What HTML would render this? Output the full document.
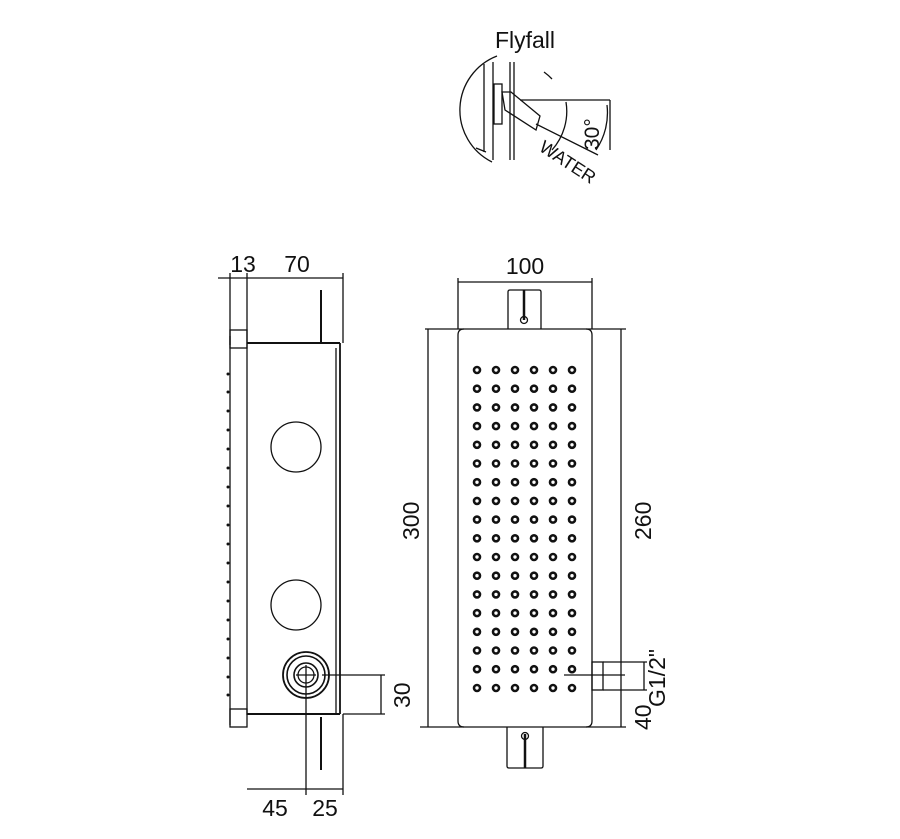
<!DOCTYPE html>
<html><head><style>body{margin:0;background:#fff}svg{display:block}</style></head><body>
<svg width="900" height="839" viewBox="0 0 900 839" xmlns="http://www.w3.org/2000/svg" font-family="Liberation Sans, sans-serif" fill="none" stroke="#111" stroke-width="1.3">
<!-- Flyfall -->
<text x="525" y="48" font-size="23" fill="#111" stroke="none" text-anchor="middle">Flyfall</text>
<path d="M497 56 A58 58 0 0 0 492 162" />
<path d="M544 72 A58 58 0 0 1 552 79"/>
<path d="M566 102 A58 58 0 0 1 552 150"/>
<line x1="484" y1="64" x2="484" y2="152"/><line x1="476" y1="148" x2="486" y2="152"/>
<line x1="493" y1="62" x2="493" y2="160"/>
<line x1="510" y1="62" x2="510" y2="160"/><line x1="514" y1="62" x2="514" y2="160"/>
<rect x="494" y="84" width="8" height="40"/>
<path d="M502 92 L511 92 L540 116 L536 130 L505 110 Z"/>
<line x1="520" y1="100" x2="610" y2="100"/><line x1="610" y1="100" x2="610" y2="150"/>
<line x1="536" y1="124" x2="598" y2="155"/>
<path d="M607 105 A66 66 0 0 1 596 150"/>
<text x="0" y="0" font-size="21" fill="#111" stroke="none" transform="translate(599,150) rotate(-90)">30°</text>
<text x="0" y="0" font-size="18" fill="#111" stroke="none" transform="translate(538,150) rotate(33)">WATER</text>
<!-- Side view -->
<text x="243" y="272" font-size="23" fill="#111" stroke="none" text-anchor="middle">13</text>
<text x="297" y="272" font-size="23" fill="#111" stroke="none" text-anchor="middle">70</text>
<line x1="218" y1="278" x2="343" y2="278"/>
<line x1="230" y1="273" x2="230" y2="345"/><line x1="247" y1="273" x2="247" y2="715"/><line x1="343" y1="273" x2="343" y2="343"/>
<rect x="230" y="330" width="17" height="18"/><rect x="230" y="709" width="17" height="18"/>
<line x1="230" y1="336" x2="230" y2="725"/>
<line x1="247" y1="343" x2="340" y2="343" stroke-width="2"/><line x1="247" y1="714" x2="340" y2="714" stroke-width="2"/>
<line x1="340" y1="343" x2="340" y2="714" stroke-width="1.8"/><line x1="336" y1="348" x2="336" y2="714"/>
<line x1="321" y1="290" x2="321" y2="342" stroke-width="2"/>
<line x1="321" y1="717" x2="321" y2="770" stroke-width="2"/>
<circle cx="296" cy="447" r="25"/><circle cx="296" cy="605" r="25"/>
<circle cx="306" cy="675" r="23" stroke-width="1.8"/><circle cx="306" cy="675" r="19" stroke-width="1.6"/><circle cx="306" cy="675" r="12" stroke-width="1.6"/><circle cx="306" cy="675" r="8"/>
<line x1="296" y1="675" x2="316" y2="675"/><line x1="306" y1="665" x2="306" y2="795"/>
<line x1="322" y1="675" x2="385" y2="675"/><line x1="343" y1="714" x2="385" y2="714"/><line x1="381" y1="675" x2="381" y2="714"/>
<text x="0" y="0" font-size="23" fill="#111" stroke="none" transform="translate(410,708) rotate(-90)">30</text>
<line x1="343" y1="714" x2="343" y2="795"/>
<line x1="247" y1="789" x2="343" y2="789"/>
<text x="275" y="816" font-size="23" fill="#111" stroke="none" text-anchor="middle">45</text>
<text x="325" y="816" font-size="23" fill="#111" stroke="none" text-anchor="middle">25</text>
<g fill="#111" stroke="none">
<circle cx="228" cy="374" r="1.5"/><circle cx="228" cy="392" r="1.5"/><circle cx="228" cy="411" r="1.5"/><circle cx="228" cy="430" r="1.5"/><circle cx="228" cy="449" r="1.5"/><circle cx="228" cy="468" r="1.5"/><circle cx="228" cy="487" r="1.5"/><circle cx="228" cy="506" r="1.5"/><circle cx="228" cy="525" r="1.5"/><circle cx="228" cy="544" r="1.5"/><circle cx="228" cy="563" r="1.5"/><circle cx="228" cy="582" r="1.5"/><circle cx="228" cy="601" r="1.5"/><circle cx="228" cy="620" r="1.5"/><circle cx="228" cy="639" r="1.5"/><circle cx="228" cy="658" r="1.5"/><circle cx="228" cy="677" r="1.5"/><circle cx="228" cy="695" r="1.5"/>
</g>
<!-- Front view -->
<text x="525" y="274" font-size="23" fill="#111" stroke="none" text-anchor="middle">100</text>
<line x1="458" y1="282" x2="592" y2="282"/>
<line x1="458" y1="278" x2="458" y2="329"/><line x1="592" y1="278" x2="592" y2="329"/>
<line x1="425" y1="329" x2="626" y2="329"/><line x1="420" y1="727" x2="626" y2="727"/>
<line x1="428" y1="329" x2="428" y2="727"/><line x1="621" y1="329" x2="621" y2="727"/>
<path d="M464 329 Q458 329 458 335 L458 721 Q458 727 464 727 M586 329 Q592 329 592 335 L592 721 Q592 727 586 727"/>
<text x="0" y="0" font-size="23" fill="#111" stroke="none" transform="translate(419,540) rotate(-90)">300</text>
<text x="0" y="0" font-size="23" fill="#111" stroke="none" transform="translate(651,540) rotate(-90)">260</text>
<path d="M508 329 L508 292 Q508 290 510 290 L539 290 Q541 290 541 292 L541 329"/>
<line x1="524" y1="290" x2="524" y2="320" stroke-width="2.5"/><circle cx="524" cy="320" r="3.5"/>
<path d="M507 727 L507 766 Q507 768 509 768 L541 768 Q543 768 543 766 L543 727"/>
<line x1="525" y1="734" x2="525" y2="768" stroke-width="2.5"/><circle cx="525" cy="736" r="3.5"/>
<rect x="592" y="662" width="11" height="28"/>
<line x1="603" y1="662" x2="647" y2="662"/><line x1="603" y1="690" x2="647" y2="690"/>
<line x1="644" y1="662" x2="644" y2="690"/><line x1="564" y1="675" x2="625" y2="675"/>
<text x="0" y="0" font-size="23" fill="#111" stroke="none" transform="translate(665,707) rotate(-90)">G1/2"</text>
<text x="0" y="0" font-size="23" fill="#111" stroke="none" transform="translate(651,730) rotate(-90)">40</text>
<g stroke-width="2.6" id="holes">
<g id="row">
<circle cx="477" cy="370" r="3"/><circle cx="496" cy="370" r="3"/><circle cx="515" cy="370" r="3"/><circle cx="534" cy="370" r="3"/><circle cx="553" cy="370" r="3"/><circle cx="572" cy="370" r="3"/>
</g>
<use href="#row" y="18.7"/><use href="#row" y="37.4"/><use href="#row" y="56.1"/><use href="#row" y="74.8"/><use href="#row" y="93.5"/><use href="#row" y="112.2"/><use href="#row" y="130.9"/><use href="#row" y="149.6"/><use href="#row" y="168.3"/><use href="#row" y="187"/><use href="#row" y="205.7"/><use href="#row" y="224.4"/><use href="#row" y="243.1"/><use href="#row" y="261.8"/><use href="#row" y="280.5"/><use href="#row" y="299.2"/><use href="#row" y="318"/>
</g>
</svg>
</body></html>
